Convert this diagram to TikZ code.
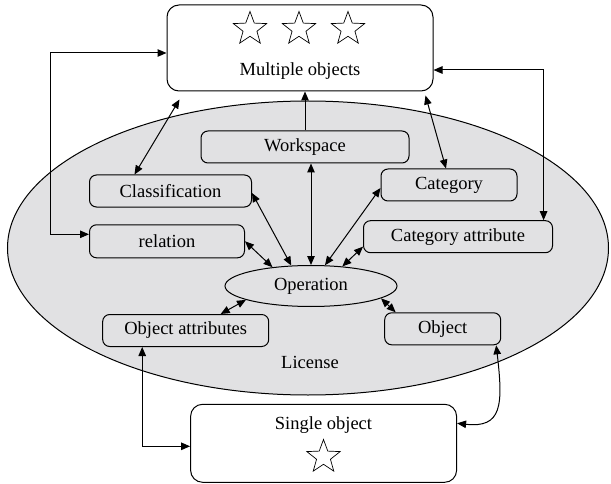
\documentclass[tikz,border=0pt]{standalone}
\usepackage{fontspec}
\setmainfont{Liberation Serif}
\usetikzlibrary{arrows.meta,shapes.geometric}
\definecolor{licgray}{RGB}{225,225,227}

\begin{document}
\begin{tikzpicture}[x=1pt, y=1pt, >={Triangle[length=9pt,width=7.5pt]}, line width=1pt,
  font=\fontsize{18.5}{22}\selectfont,
  bigbox/.style={rectangle, draw, rounded corners=12pt, minimum width=266pt, fill=white},
  part/.style={rectangle, draw, rounded corners=7pt, minimum height=32pt, fill=licgray, inner sep=0pt},
  staricon/.style={star, star points=5, star point ratio=2.4, draw, minimum size=35pt, inner sep=0pt, line width=0.7pt}]

		\useasboundingbox (0,0) rectangle (611,483);

		\node[ellipse, draw, fill=licgray, minimum width=601pt, minimum height=294pt, inner sep=0pt] (lic) at (308,235) {};
		\node (liclabel) at (310,121) {License};

		\node[bigbox, minimum height=86pt] (multi) at (300,435) {};
		\node[staricon] (star1) at (250,454) {};
		\node[staricon] (star2) at (299,454) {};
		\node[staricon] (star3) at (348,454) {};
		\node (multilabel) at (300,412) {Multiple objects};

		\node[bigbox, minimum height=78pt] (single) at (323.6,39.7) {};
		\node (singlelabel) at (323.5,58) {Single object};
		\node[staricon] (star4) at (323.5,26) {};

		\node[part, minimum width=208pt] (ws) at (305,336) {Workspace};
		\node[part, minimum width=162pt] (clas) at (170.5,292) {Classification};
		\node[part, minimum width=155pt, minimum height=33pt] (rel) at (167,241.7) {relation};
		\node[part, minimum width=136pt] (cat) at (449,298) {Category};
		\node[part, minimum width=189pt] (catattr) at (458,246.3) {Category attribute};
		\node[ellipse, draw, fill=licgray, minimum width=172pt, minimum height=41pt, inner sep=0pt] (op) at (311,197) {Operation};
		\node[part, minimum width=166pt] (objattr) at (185.7,152.5) {Object attributes};
		\node[part, minimum width=116pt] (obj) at (442.7,154.2) {Object};

		\coordinate (lbend) at (50,430);

		\draw[<->] ([yshift=7pt]rel.west) -| (lbend) -- ([yshift=-5pt]multi.west);
		\draw[<->] ([yshift=-22pt]multi.east) -| ([xshift=85.6pt]catattr.north);
		\draw[<->] ([xshift=-36pt]clas.north) -- ([xshift=13pt,yshift=-8pt]multi.south west);
		\draw[->] (ws.north) -- (ws.north |- multi.south);
		\draw[<->] ([xshift=-3pt]cat.north) -- ([xshift=-8pt,yshift=-4pt]multi.south east);

		\draw[<->] (op.north |- ws.south) -- (op.north);
		\draw[<->] ([yshift=-2pt]clas.east) -- (op.134);
		\draw[<->] (rel.east) -- (op.154);
		\draw[<->] ([yshift=-3pt]cat.west) -- (op.56);
		\draw[<->] ([yshift=-10pt]catattr.west) -- (op.32);
		\draw[<->] ([xshift=35pt]objattr.north) -- (op.192);
		\draw[<->] ([xshift=-47pt]obj.north) -- (op.350);

		\draw[<->] ([xshift=-43.5pt]objattr.south) |- ([yshift=-3pt]single.west);
		\draw[<->] ([xshift=-5pt]obj.south east) .. controls +(7,-60) and +(45,-5) .. ([yshift=20pt]single.east);

\end{tikzpicture}
\end{document}
